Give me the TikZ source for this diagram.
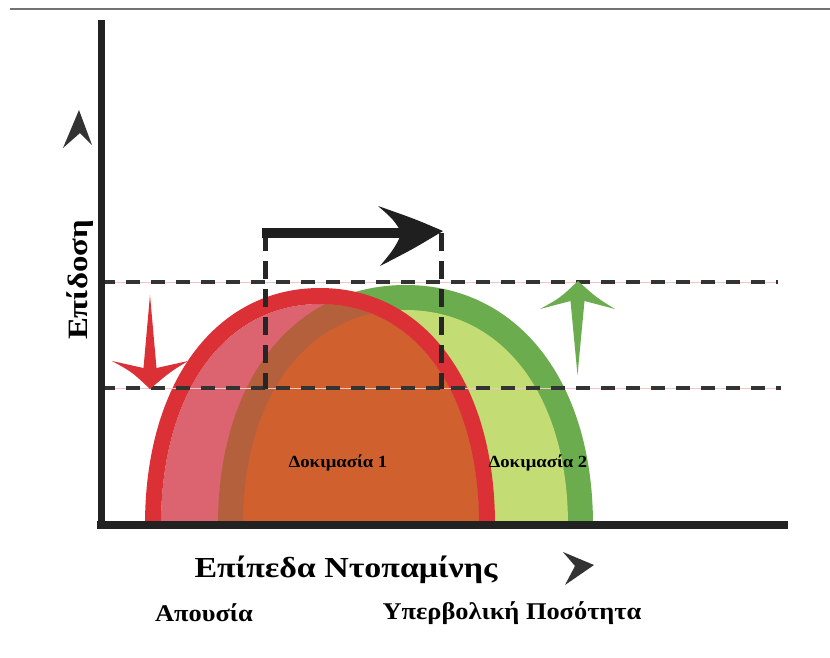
\documentclass[tikz,border=0pt]{standalone}
\usepackage{fontspec}
\setmainfont{Liberation Serif}
\definecolor{redline}{HTML}{DA3036}
\definecolor{redpink}{HTML}{DC6470}
\definecolor{overband}{HTML}{B4603C}
\definecolor{overfill}{HTML}{D0612F}
\definecolor{greenline}{HTML}{6BAC4F}
\definecolor{greenfill}{HTML}{C4DC74}
\definecolor{axisgray}{HTML}{222222}
\definecolor{dashgray}{HTML}{333333}
\definecolor{guidepink}{HTML}{F2C4C4}
% open bell-shaped arc: centre x, base y, half width, height
\newcommand\bellarc[4]{(#1-#3,#2) .. controls (#1-#3,#2-0.6*#4) and (#1-0.6*#3,#2-#4) .. (#1,#2-#4) .. controls (#1+0.6*#3,#2-#4) and (#1+#3,#2-0.6*#4) .. (#1+#3,#2)}
% bold serif at a given size and horizontal stretch
\newcommand\widebold[2]{\bfseries\fontsize{#1}{#1}\selectfont\addfontfeatures{FakeStretch=#2}}
\begin{document}
\begin{tikzpicture}[x=1pt,y=-1pt,
  axis/.style={axisgray, line width=8pt},
  guide/.style={dashgray, line width=3.5pt, dash pattern=on 14pt off 11pt},
  vguide/.style={black!85, line width=5pt, dash pattern=on 18pt off 10pt},
  chevron/.style={fill=black!80},
  label/.style={font=\widebold{24}{1.1}, inner sep=0pt},
  small/.style={font=\widebold{17}{1.1}, inner sep=0pt}]
\useasboundingbox (0,0) rectangle (830,657);
\fill[white] (0,0) rectangle (830,657);
% frame edge at the top
\draw[black!55, line width=2pt] (10,9) -- (830,9);

% second trial (green)
\fill[greenline] \bellarc{405.5}{525}{187.5}{240} -- cycle;
\fill[greenfill] \bellarc{405.5}{525}{162.5}{215} -- cycle;
% first trial (red), with the overlap tinted
\fill[redpink] \bellarc{320}{525}{159}{221} -- cycle;
\begin{scope}
  \clip \bellarc{320}{525}{159}{221} -- cycle;
  \fill[overband] \bellarc{405.5}{525}{187.5}{240} -- cycle;
  \fill[overfill] \bellarc{405.5}{525}{162.5}{215} -- cycle;
\end{scope}
\draw[redline, line width=16pt] \bellarc{320}{525}{167}{229};

% horizontal performance levels
\coordinate (hiL) at (101,282); \coordinate (hiR) at (778,282);
\coordinate (loL) at (101,388); \coordinate (loR) at (781,388);
\draw[guidepink, line width=1pt] (hiL) -- (hiR);
\draw[guidepink, line width=1pt] (loL) -- (loR);
\draw[guide] (hiL) -- (hiR);
\draw[guide] (loL) -- (loR);

% shift of the optimum
\coordinate (sA) at (265,233); \coordinate (sB) at (441,233);
\coordinate (sA0) at (265,389); \coordinate (sB0) at (441,389);
\draw[vguide] (sA) -- (sA0);
\draw[vguide] (sB) -- (sB0);
\draw[black!88, line width=10pt] (262,233) -- (405,233);
\fill[black!88] (443,231) .. controls (415,219) .. (378,206)
  .. controls (393,219) .. (402,233) .. controls (394,249) .. (380,266)
  .. controls (413,249) .. (443,231) -- cycle;

% red arrow: drop in performance
\fill[redline] (150,295) -- (156.5,368) -- (188,361)
  .. controls (170,372) .. (150,389) .. controls (132,372) .. (112,361)
  -- (143.5,368) -- cycle;
% green arrow: rise in performance
\fill[greenline] (577.5,375) -- (584.5,301) -- (615,309)
  .. controls (597,298) .. (578,281) .. controls (560,298) .. (540,309)
  -- (570.5,301) -- cycle;

% axes
\draw[axis, line width=7pt] (101,20) -- (101,529);
\draw[axis] (97,525) -- (788,525);

% direction marks
\fill[chevron] (79,110) -- (92,145) -- (80,133) -- (63,148) -- cycle;
\fill[chevron] (594,565) -- (565,585) -- (575,566) -- (563,552) -- cycle;

% labels
\node[label, font=\widebold{28}{1.17}, rotate=90] (ylab) at (80,280) {Επίδοση};
\node[label, font=\widebold{29}{1.17}] (xlab) at (346,570) {Επίπεδα Ντοπαμίνης};
\node[label] (low) at (204,613) {Απουσία};
\node[label] (high) at (512,613) {Υπερβολική Ποσότητα};
\node[small] (t1) at (338,463) {Δοκιμασία 1};
\node[small] (t2) at (538,463) {Δοκιμασία 2};
\end{tikzpicture}
\end{document}
